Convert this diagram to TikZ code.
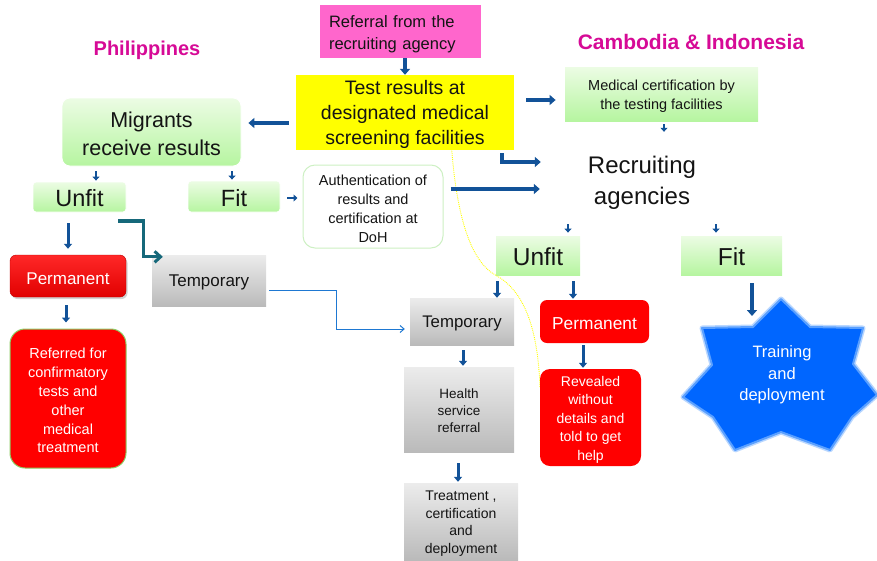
\documentclass[tikz,border=0pt]{standalone}
\usepackage{fontspec}
\setmainfont{Liberation Sans}
\usetikzlibrary{arrows.meta,calc,shadows}
\definecolor{ab}{RGB}{18,82,152}
\definecolor{teal1}{RGB}{22,104,122}
\definecolor{mag}{RGB}{214,10,150}
\definecolor{gtop}{RGB}{236,252,228}
\definecolor{gbot}{RGB}{182,245,160}
\definecolor{grtop}{RGB}{236,236,236}
\definecolor{grbot}{RGB}{186,186,186}
\definecolor{red1}{RGB}{255,0,0}
\definecolor{pinkb}{RGB}{255,102,204}
\definecolor{yel}{RGB}{255,255,0}
\definecolor{starb}{RGB}{0,102,255}
\definecolor{starg}{RGB}{185,215,255}
\definecolor{starm}{RGB}{90,160,255}
\definecolor{thinb}{RGB}{30,120,210}
\definecolor{txt}{RGB}{20,20,20}
\tikzset{
  box/.style args={#1x#2}{minimum width=#1pt, minimum height=#2pt, inner sep=0pt},
  tx/.style={inner sep=0pt, align=center, text=txt},
  wtx/.style={inner sep=0pt, align=center, text=white},
  greenbox/.style={top color=gtop, bottom color=gbot, draw=white, line width=0.8pt},
  graybox/.style={top color=grtop, bottom color=grbot},
  redbox/.style={fill=red1},
  bigarrow/.style={draw=ab, line width=3.6pt, -{Triangle[width=10pt,length=6pt]}},
  medarrow/.style={draw=ab, line width=3pt, -{Triangle[width=8pt,length=5pt]}},
  smallarrow/.style={draw=ab, line width=2.6pt, -{Triangle[width=7pt,length=4pt]}},
}
\begin{document}
\begin{tikzpicture}[x=1pt,y=-1pt]
\useasboundingbox (0,0) rectangle (877,560);

% titles
\node[text=mag, font=\bfseries\fontsize{20}{24}\selectfont] (tphil) at (147,50) {Philippines};
\node[text=mag, font=\bfseries\fontsize{21}{25}\selectfont] (tcam) at (691,42) {Cambodia \& Indonesia};

% boxes
\node[box=161x53, fill=pinkb] (ref) at (400.5,31.5) {};
\node[box=218x75, fill=yel] (yel) at (405,112.5) {};
\node[box=179x68, greenbox, rounded corners=8pt] (mig) at (151.5,132) {};
\node[box=193x54, greenbox, draw=none] (med) at (661.5,94) {};
\node[box=93x30, greenbox, rounded corners=3pt] (unfl) at (79.5,197) {};
\node[box=92x31, greenbox, rounded corners=3pt] (fitl) at (234,196.5) {};
\node[box=140x83, fill=white, draw={rgb,255:red,205;green,240;blue,195}, line width=1pt, rounded corners=12pt] (auth) at (373,206.5) {};
\node[box=116x42, top color={rgb,255:red,255;green,40;blue,40}, bottom color={rgb,255:red,225;green,0;blue,0}, draw={rgb,255:red,190;green,0;blue,0}, rounded corners=6pt, drop shadow={opacity=0.35,shadow xshift=1.5pt,shadow yshift=-2pt}] (perml) at (68,276) {};
\node[box=116x139, redbox, draw={rgb,255:red,140;green,205;blue,100}, line width=1pt, rounded corners=15pt] (refd) at (68,398.5) {};
\node[box=114x51, graybox] (templ) at (209,280.5) {};
\node[box=140x70] (rec) at (642,180) {};
\node[box=84x39, greenbox, draw=none] (unfr) at (538,255.5) {};
\node[box=101x39, greenbox, draw=none] (fitr) at (731.5,255.5) {};
\node[box=104x47, graybox] (tempr) at (462,321.5) {};
\node[box=109x43, redbox, rounded corners=7pt] (permr) at (594.5,321.5) {};
\node[box=110x85, graybox] (hsr) at (459,409.5) {};
\node[box=114x77, graybox] (treat) at (461,521.5) {};

% yellow dotted curve
\draw[yel, densely dotted, line width=0.9pt] (451,140) .. controls (456,215) and (470,262) .. (497,276) .. controls (525,292) and (538,330) .. (540,388);

\node[box=101x97, redbox, rounded corners=10pt] (rev) at (590.5,417.5) {};

% texts
\node[tx, text width=143pt, align=left, font=\fontsize{16.5}{22}\selectfont] (refT) at ([yshift=-2.3pt]ref.center) {Referral from the\\recruiting agency};
\node[tx, font=\fontsize{19.5}{25}\selectfont] (yelT) at ([yshift=-2.3pt]yel.center) {Test results at\\designated medical\\screening facilities};
\node[tx, font=\fontsize{21.5}{28}\selectfont] (migT) at ([yshift=-2.3pt]mig.center) {Migrants\\receive results};
\node[tx, font=\fontsize{14.5}{19}\selectfont] (medT) at ([yshift=-2.3pt]med.center) {Medical certification by\\the testing facilities};
\node[tx, font=\fontsize{23.5}{26}\selectfont] (unflT) at ([yshift=-1.5pt]unfl.center) {Unfit};
\node[tx, font=\fontsize{23.5}{26}\selectfont] (fitlT) at ([yshift=-1.5pt]fitl.center) {Fit};
\node[tx, font=\fontsize{14.5}{19}\selectfont] (authT) at ([yshift=-2.3pt]auth.center) {Authentication of\\results and\\certification at\\DoH};
\node[wtx, font=\fontsize{17}{20}\selectfont] (permlT) at ([yshift=-2.3pt]perml.center) {Permanent};
\node[wtx, font=\fontsize{14.5}{18.8}\selectfont] (refdT) at ([yshift=-2.3pt]refd.center) {Referred for\\confirmatory\\tests and\\other\\medical\\treatment};
\node[tx, font=\fontsize{17}{20}\selectfont] (templT) at ([yshift=-2.3pt]templ.center) {Temporary};
\node[tx, font=\fontsize{24}{31}\selectfont] (recT) at ([yshift=-2.8pt]rec.center) {Recruiting\\agencies};
\node[tx, font=\fontsize{24.5}{28}\selectfont] (unfrT) at ([yshift=-1.5pt]unfr.center) {Unfit};
\node[tx, font=\fontsize{24.5}{28}\selectfont] (fitrT) at ([yshift=-1.5pt]fitr.center) {Fit};
\node[tx, font=\fontsize{16.8}{20}\selectfont] (temprT) at ([yshift=-2.3pt]tempr.center) {Temporary};
\node[wtx, font=\fontsize{17.3}{20}\selectfont] (permrT) at ([yshift=-2.3pt]permr.center) {Permanent};
\node[tx, font=\fontsize{13.5}{17}\selectfont] (hsrT) at ([yshift=-1.5pt]hsr.center) {Health\\service\\referral};
\node[tx, font=\fontsize{14}{17.5}\selectfont] (treatT) at ([yshift=-2pt]treat.center) {Treatment ,\\certification\\and\\deployment};
\node[wtx, font=\fontsize{14}{18.5}\selectfont] (revT) at ([yshift=-2pt]rev.center) {Revealed\\without\\details and\\told to get\\help};

% star
\draw[starg, line width=5pt, line join=round]
 (781,299) -- (810,327) -- (863,328) -- (853,364) -- (877,395) -- (852,417) -- (830,450) -- (781,432)
 -- (735,450) -- (713,417) -- (683,397) -- (712,365) -- (702,328) -- (753,327) -- cycle;
\draw[starm, line width=2pt, line join=round, fill=starb]
 (781,299) -- (810,327) -- (863,328) -- (853,364) -- (877,395) -- (852,417) -- (830,450) -- (781,432)
 -- (735,450) -- (713,417) -- (683,397) -- (712,365) -- (702,328) -- (753,327) -- cycle;
\node[wtx, font=\fontsize{16.5}{21.5}\selectfont] (star) at (782,375) {Training\\and\\deployment};
\coordinate (startop) at (752,316);

% arrows
\draw[bigarrow] ([xshift=4.5pt]ref.south) -- (yel.north);
\draw[bigarrow] ([xshift=-7pt,yshift=-10.5pt]yel.west) -- ([xshift=7pt,yshift=9pt]mig.east);
\draw[bigarrow] ([xshift=12pt,yshift=12.5pt]yel.east) -- ([xshift=-9pt,yshift=-6pt]med.west);
\draw[bigarrow] ([xshift=97pt,yshift=-3pt]yel.south) |- ([xshift=-31pt,yshift=18pt]rec.west);
\draw[bigarrow] ([xshift=7pt,yshift=17.5pt]auth.east) -- ([xshift=-32pt,yshift=-9pt]rec.west);
\draw[smallarrow] ([xshift=-55.5pt,yshift=-5pt]mig.south) -- ([xshift=16.5pt,yshift=1pt]unfl.north);
\draw[smallarrow] ([xshift=80.5pt,yshift=-5pt]mig.south) -- ([xshift=-2pt,yshift=1pt]fitl.north);
\draw[smallarrow] ([xshift=7pt,yshift=-1.5pt]fitl.east) -- ([xshift=-5pt,yshift=-1.5pt]fitl.east -| auth.west);
\draw[smallarrow] ([xshift=2.5pt,yshift=-3pt]med.south) -- ([xshift=22pt,yshift=13pt]rec.north);
\draw[smallarrow] ([xshift=-74pt,yshift=-9pt]rec.south) -- ([xshift=30pt,yshift=3pt]unfr.north);
\draw[smallarrow] ([xshift=74pt,yshift=-9pt]rec.south) -- ([xshift=-15.5pt,yshift=3pt]fitr.north);
\draw[medarrow] ([xshift=-11.5pt,yshift=-11pt]unfl.south) -- ([yshift=6pt]perml.north);
\draw[medarrow] ([xshift=-2pt,yshift=-8pt]perml.south) -- ([xshift=-2pt,yshift=6pt]refd.north);
\draw[draw=teal1, line width=3.2pt, line join=miter, -{Straight Barb[width=11pt,length=6pt,line width=3pt]}] ([xshift=-8pt,yshift=-24pt]unfl.east) -- ++(25,0) |- ([xshift=11pt,yshift=-2pt]templ.north west);
\draw[thinb, line width=1pt, -{Straight Barb[width=7pt,length=4pt,line width=1pt]}] ([xshift=3pt,yshift=-9.5pt]templ.east) -- ++(67,0) |- ([xshift=-5pt,yshift=-7.5pt]tempr.west);
\draw[medarrow] ([xshift=-41pt,yshift=-6pt]unfr.south) -- ([xshift=35pt]tempr.north);
\draw[medarrow] ([xshift=35pt,yshift=-6pt]unfr.south) -- ([xshift=-21.5pt,yshift=1pt]permr.north);
\draw[medarrow] ([xshift=1pt,yshift=-5pt]tempr.south) -- ([xshift=4pt,yshift=1pt]hsr.north);
\draw[medarrow] ([xshift=-11.5pt,yshift=-2pt]permr.south) -- ([xshift=-7.5pt,yshift=1pt]rev.north);
\draw[medarrow] ([xshift=-1pt,yshift=-11pt]hsr.south) -- ([xshift=-3pt,yshift=1pt]treat.north);
\draw[bigarrow] ([xshift=20.5pt,yshift=-8pt]fitr.south) -- (startop);
\end{tikzpicture}
\end{document}
